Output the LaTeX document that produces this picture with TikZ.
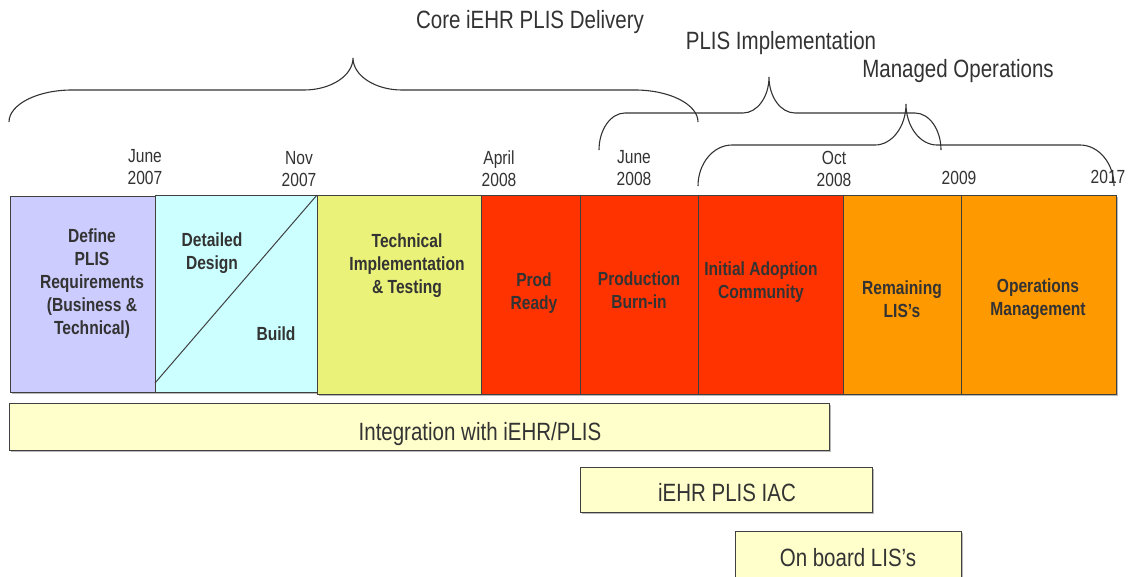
\documentclass[tikz,border=0pt]{standalone}
\usepackage{fontspec}
\setmainfont{Liberation Sans}[FakeStretch=0.82]
\usetikzlibrary{shadows}
\definecolor{txt}{HTML}{333333}
\definecolor{edge}{HTML}{404040}
\definecolor{lav}{HTML}{CCCCFF}
\definecolor{cyanl}{HTML}{CCFFFF}
\definecolor{ygreen}{HTML}{EAF27A}
\definecolor{redp}{HTML}{FF3300}
\definecolor{orng}{HTML}{FF9900}
\definecolor{barfill}{HTML}{FFFFCC}
\newcommand{\tlbrace}[8]{%
 \draw[bracestyle] (#1,#3) .. controls (#1,{#3-0.55*(#3-#4)}) and ({#1+0.45*#7},#4) .. ({#1+#7},#4)
  -- ({#5-#8},#4) .. controls ({#5-0.45*#8},#4) and (#5,{#4-0.45*(#4-#6)}) .. (#5,#6)
  .. controls (#5,{#4-0.45*(#4-#6)}) and ({#5+0.45*#8},#4) .. ({#5+#8},#4)
  -- ({#2-#7},#4) .. controls ({#2-0.45*#7},#4) and (#2,{#3-0.55*(#3-#4)}) .. (#2,#3);}
\begin{document}
\begin{tikzpicture}[x=1pt,y=-1pt,
  phase/.style={draw=edge, line width=1pt, inner sep=0pt, outer sep=0pt,
    drop shadow={shadow xshift=2pt, shadow yshift=-2pt, fill=gray!55, opacity=1}},
  bar/.style={phase, fill=barfill},
  boxlbl/.style={text=txt, font=\fontsize{19}{23}\selectfont\bfseries, align=center, inner sep=0pt},
  datelbl/.style={text=txt, font=\fontsize{19}{22}\selectfont, align=center, inner sep=0pt},
  biglbl/.style={text=txt, font=\fontsize{25}{28}\selectfont, inner sep=0pt},
  bracestyle/.style={draw=txt, line width=1.1pt}]
\useasboundingbox (0,0) rectangle (1134,576);
\fill[white] (0,0) rectangle (1134,576);

% phase boxes
\node[phase, fill=lav, minimum width=145pt, minimum height=196pt] (define) at (82.5,294) {};
\node[phase, fill=cyanl, minimum width=162pt, minimum height=197pt] (design) at (236,293.5) {};
\node[phase, fill=ygreen, minimum width=164pt, minimum height=199pt] (tech) at (399,294.5) {};
\node[phase, fill=redp, minimum width=99pt, minimum height=199pt] (prod) at (530.5,294.5) {};
\node[phase, fill=redp, minimum width=118pt, minimum height=199pt] (burn) at (639,294.5) {};
\node[phase, fill=redp, minimum width=145pt, minimum height=199pt] (iac) at (770.5,294.5) {};
\node[phase, fill=orng, minimum width=118pt, minimum height=199pt] (remain) at (902,294.5) {};
\node[phase, fill=orng, minimum width=155pt, minimum height=199pt] (ops) at (1038.5,294.5) {};
\draw[edge, line width=1pt] ([yshift=9pt]design.south west) -- (design.north east);

% box labels
\node[boxlbl] (tdefine) at (92,284) {Define\\PLIS\\Requirements\\(Business \&\\Technical)};
\node[boxlbl] (tdesign) at (212,253) {Detailed\\Design};
\node[boxlbl] (tbuild) at (276,334) {Build};
\node[boxlbl] (ttech) at (407,266) {Technical\\Implementation\\\& Testing};
\node[boxlbl] (tprod) at (534,293.5) {Prod\\Ready};
\node[boxlbl] (tburn) at (639,290.5) {Production\\Burn-in};
\node[boxlbl] (tiac) at (761,282.5) {Initial Adoption\\Community};
\node[boxlbl] (tremain) at (902,299) {Remaining\\LIS’s};
\node[boxlbl] (tops) at (1038,299) {Operations\\Management};

% date labels
\node[datelbl] (d1) at (145,167) {June\\2007};
\node[datelbl] (d2) at (299,169.5) {Nov\\2007};
\node[datelbl] (d3) at (499,169) {April\\2008};
\node[datelbl] (d4) at (634,168) {June\\2008};
\node[datelbl] (d5) at (834,168.5) {Oct\\2008};
\node[datelbl] (d6) at (959,178) {2009};
\node[datelbl] (d7) at (1108,177) {2017};

% braces
\tlbrace{9}{698}{122}{90}{353}{58}{63}{49}
\tlbrace{599}{941}{150}{113}{769}{77}{26}{26}
\tlbrace{698}{1114}{186}{145}{906}{104}{34}{31}

% brace labels
\node[biglbl] (core) at (530,22.5) {Core iEHR PLIS Delivery};
\node[biglbl] (impl) at (781,43.5) {PLIS Implementation};
\node[biglbl] (mops) at (958,71.5) {Managed Operations};

% bottom bars
\node[bar, minimum width=820pt, minimum height=47pt] (integ) at (419,426.5) {};
\node[bar, minimum width=292pt, minimum height=45pt] (iacbar) at (726,489.5) {};
\node[bar, minimum width=226pt, minimum height=49pt] (onboard) at (848,555.5) {};
\node[biglbl] (tinteg) at (480,434.5) {Integration with iEHR/PLIS};
\node[biglbl] (tiacbar) at (727,492.5) {iEHR PLIS IAC};
\node[biglbl] (tonboard) at (848,557.5) {On board LIS’s};
\end{tikzpicture}
\end{document}
